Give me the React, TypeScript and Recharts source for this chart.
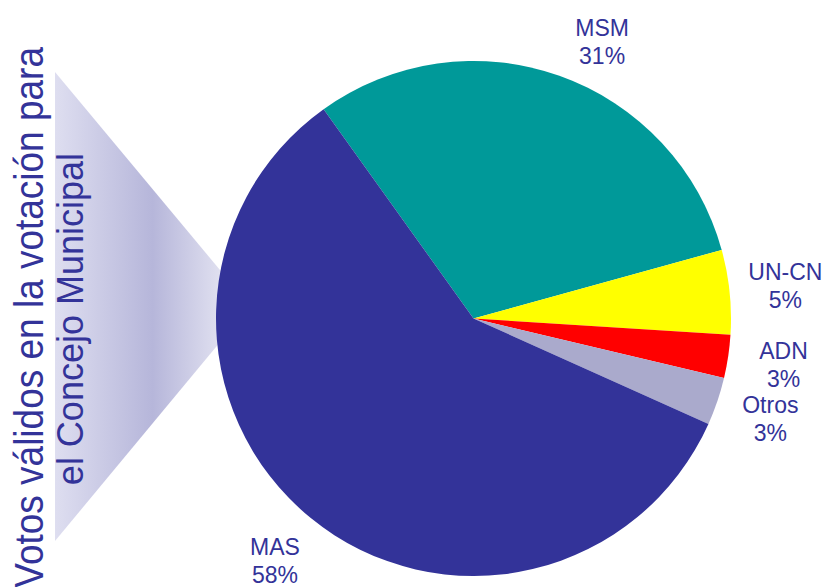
import React from "react";
import { Cell, Pie, PieChart } from "recharts";

const parties = ["MSM", "UN-CN", "ADN", "Otros", "MAS"];
const shares = [30.6, 5.3, 2.7, 3.0, 58.4];
const shareLabels = ["31%", "5%", "3%", "3%", "58%"];
const titleLines = ["Votos válidos en la votación para", "el Concejo Municipal"];

const sliceColors = ["#009999", "#FFFF00", "#FF0000", "#AAAACC", "#333399"];
const ink = "#333399";
const font = "'Liberation Sans', Arial, sans-serif";

const data = parties.map((name, i) => ({ name, value: shares[i] }));

const RADIAN = Math.PI / 180;

function renderLabel(props: any) {
  const { cx, cy, midAngle, outerRadius, index } = props;
  // the top label sits a little clockwise and closer in
  const top = midAngle > 45 && midAngle < 135;
  const angle = top ? midAngle - 5.5 : midAngle;
  const r = outerRadius + (top ? 47 : 56);
  const x = cx + r * Math.cos(-angle * RADIAN);
  const y = cy + r * Math.sin(-angle * RADIAN);
  return (
    <text x={x} y={y} textAnchor="middle" fill={ink} fontSize={23} fontFamily={font}>
      <tspan x={x} dy={-6}>{parties[index]}</tspan>
      <tspan x={x} dy={28}>{shareLabels[index]}</tspan>
    </text>
  );
}

export default function App() {
  const start = 125.6; // MAS / MSM boundary
  return (
    <div style={{ position: "absolute", left: 0, top: 0, width: 830, height: 587, background: "#fff" }}>
      {/* funnel + vertical title behind the pie */}
      <svg width={830} height={587} style={{ position: "absolute", left: 0, top: 0 }}>
        <defs>
          <linearGradient id="funnel" x1="0" y1="0" x2="1" y2="0">
            <stop offset="0" stopColor="#DEDEF0" />
            <stop offset="0.5" stopColor="#B6B6DA" />
            <stop offset="1" stopColor="#F2F2F9" />
          </linearGradient>
        </defs>
        <polygon points="55,72 250,306 55,541" fill="url(#funnel)" />
        <text transform="translate(43,47) rotate(-90) scale(1,1.1)" textAnchor="end" fill={ink} fontSize={37} fontFamily={font}>
          {titleLines[0]}
        </text>
        <text transform="translate(83,153) rotate(-90) scale(1,1.05)" textAnchor="end" fill={ink} fontSize={36} fontFamily={font}>
          {titleLines[1]}
        </text>
      </svg>
      <div style={{ position: "absolute", left: 0, top: 0 }}>
        <PieChart width={830} height={587} margin={{ top: 0, right: 0, bottom: 0, left: 0 }}>
          <Pie
            data={data}
            dataKey="value"
            nameKey="name"
            cx={473.5}
            cy={318.5}
            outerRadius={257.5}
            startAngle={start}
            endAngle={start - 360}
            stroke="none"
            labelLine={false}
            label={renderLabel}
            isAnimationActive={false}
          >
            {data.map((d, i) => (
              <Cell key={d.name} fill={sliceColors[i]} />
            ))}
          </Pie>
        </PieChart>
      </div>
    </div>
  );
}
